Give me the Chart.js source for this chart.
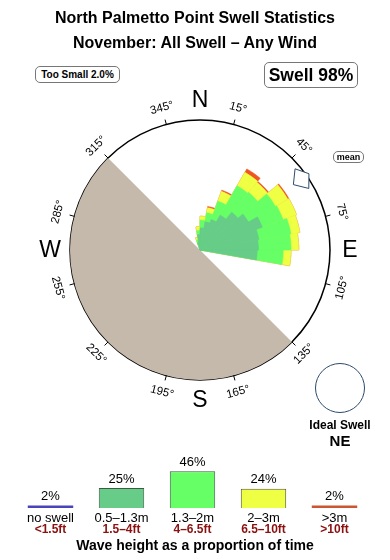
<!DOCTYPE html>
<html><head><meta charset="utf-8">
<script src="https://cdn.jsdelivr.net/npm/chart.js@4.4.1/dist/chart.umd.min.js"></script>
<style>
html,body{margin:0;padding:0;background:#fff;}
body{width:390px;height:560px;position:relative;overflow:hidden;font-family:"Liberation Sans",Arial,Helvetica,sans-serif;color:#000;}
canvas{position:absolute;left:0;}
#rose{top:0;}
#legend{top:440px;}
.t{position:absolute;left:0;width:390px;text-align:center;font-weight:bold;font-size:16px;line-height:20px;}
.box{position:absolute;border:1px solid #777;border-radius:5px;background:#fff;white-space:nowrap;text-align:center;font-weight:bold;box-sizing:border-box;}
#ideal{position:absolute;left:315px;top:363px;width:50px;height:50px;border:1.2px solid #2c4a6e;border-radius:50%;box-sizing:border-box;}
.lbl{position:absolute;width:100px;text-align:center;font-weight:bold;}
</style></head><body>
<canvas id="rose" width="390" height="440"></canvas>
<canvas id="legend" width="390" height="120"></canvas>
<div class="t" style="top:8px;">North Palmetto Point Swell Statistics</div>
<div class="t" style="top:33px;">November: All Swell – Any Wind</div>
<div class="box" style="left:35px;top:66px;width:85px;height:17px;font-size:10px;line-height:15px;">Too Small 2.0%</div>
<div class="box" style="left:264px;top:62px;width:94px;height:26px;font-size:17.5px;line-height:24px;">Swell 98%</div>
<div class="box" style="left:333px;top:151px;width:31px;height:12px;font-size:9px;line-height:10px;">mean</div>
<div id="ideal"></div>
<div class="lbl" style="left:290px;top:418px;font-size:12px;line-height:14px;">Ideal Swell</div>
<div class="lbl" style="left:290px;top:432px;font-size:15px;line-height:17px;">NE</div>
<script>
// ---- swell rose data (10° direction bins, bin start bearing) ----
const binStart = [340, 350, 0, 10, 20, 30, 40, 50, 60, 70, 80, 90];
// outer radius of each height band (cumulative), in % of the rim radius
const band05to13 = [6, 12, 17, 22, 25, 31, 38, 43, 51, 46, 45, 44];
const band13to2  = [8, 15, 23, 29, 40, 57, 58, 67, 68, 71, 70, 64];
const band2to3   = [10, 18, 26, 33, 48, 69, 68, 78, 79, 78, 76, 70];
const bandOver3  = [10, 18, 26, 34, 49, 72, 69, 79, 79, 78, 76, 70];
// shadowed (offshore) sector: from 135° to 315°
const shadowFrom = 135, shadowTo = 315;
const meanDirection = 55;
const degreeTicks = [15, 45, 75, 105, 135, 165, 195, 225, 255, 285, 315, 345];
const compass = [['N', 0], ['E', 90], ['S', 180], ['W', 270]];

// ---- wave height summary ----
const heightBands = ['no swell', '0.5–1.3m', '1.3–2m', '2–3m', '>3m'];
const heightFeet = ['<1.5ft', '1.5–4ft', '4–6.5ft', '6.5–10ft', '>10ft'];
const heightShare = [2, 25, 46, 24, 2];
const axisTitle = 'Wave height as a proportion of time';

const FONT = '"Liberation Sans", Arial, Helvetica, sans-serif';
const dirLabels = Array.from({length: 36}, (_, i) => (i * 10) + '°');
function full(arr) {
  const out = new Array(36).fill(0);
  binStart.forEach((a, i) => { out[a / 10] = arr[i]; });
  return out;
}
function ds(label, arr, color) {
  return {label, data: full(arr), backgroundColor: color, borderColor: color, borderWidth: 0.6};
}
const shadowAngles = [shadowFrom, shadowTo - shadowFrom, 360 - shadowTo];

const roseDecor = {
  id: 'roseDecor',
  afterDraw(chart) {
    const s = chart.scales.r, ctx = chart.ctx;
    const cx = s.xCenter, cy = s.yCenter, R = s.drawingArea;
    const pt = (b, r) => { const a = (b - 90) * Math.PI / 180; return [cx + Math.cos(a) * r, cy + Math.sin(a) * r]; };
    ctx.save();
    ctx.strokeStyle = '#000'; ctx.lineWidth = 1;
    degreeTicks.forEach(b => {
      const p1 = pt(b, R), p2 = pt(b, R + 5);
      ctx.beginPath(); ctx.moveTo(p1[0], p1[1]); ctx.lineTo(p2[0], p2[1]); ctx.stroke();
    });
    ctx.fillStyle = '#000'; ctx.textAlign = 'center'; ctx.textBaseline = 'middle';
    ctx.font = '11.5px ' + FONT;
    degreeTicks.forEach(b => {
      const p = pt(b, R + 17);
      let rot = b;
      if (b > 90 && b < 270) rot = b - 180; else if (b >= 270) rot = b - 360;
      ctx.save(); ctx.translate(p[0], p[1]); ctx.rotate(rot * Math.PI / 180);
      ctx.fillText(b + '°', 0, 0); ctx.restore();
    });
    ctx.font = '23px ' + FONT;
    compass.forEach(([t, b]) => { const p = pt(b, R + 20); ctx.fillText(t, p[0], p[1] + 1); });
    // mean direction marker (arrow head pointing to the centre)
    const tip = pt(meanDirection, R - 16), w1 = pt(meanDirection - 5.5, R - 5), w2 = pt(meanDirection + 5.5, R - 5), back = pt(meanDirection, R + 3);
    ctx.beginPath(); ctx.moveTo(tip[0], tip[1]); ctx.lineTo(w1[0], w1[1]); ctx.lineTo(back[0], back[1]); ctx.lineTo(w2[0], w2[1]); ctx.closePath();
    ctx.fillStyle = '#fff'; ctx.fill(); ctx.strokeStyle = '#2c4a6e'; ctx.lineWidth = 1; ctx.stroke();
    ctx.restore();
  }
};

new Chart(document.getElementById('rose'), {
  type: 'polarArea',
  data: {
    labels: dirLabels,
    datasets: [
      ds('0.5–1.3m', band05to13, '#66cc88'),
      ds('1.3–2m', band13to2, '#66ff66'),
      ds('2–3m', band2to3, '#eeff44'),
      ds('>3m', bandOver3, '#ee5522'),
      {label: 'shadow', data: [0, 100, 0], angle: ctx => shadowAngles[ctx.dataIndex],
       backgroundColor: '#c4b9ab', borderColor: '#c4b9ab', borderWidth: 0}
    ]
  },
  options: {
    responsive: false, animation: false,
    layout: {padding: {left: 70, right: 60, top: 120, bottom: 60}},
    plugins: {legend: {display: false}, tooltip: {enabled: false}},
    scales: {
      r: {
        min: 0, max: 100, startAngle: 0,
        ticks: {display: false, stepSize: 100, z: 1},
        grid: {circular: true, color: '#000', lineWidth: 1.5},
        angleLines: {display: false},
        pointLabels: {display: false}
      }
    }
  },
  plugins: [roseDecor]
});

const legendLabels = {
  id: 'legendLabels',
  afterDatasetsDraw(chart) {
    const ctx = chart.ctx, meta = chart.getDatasetMeta(0);
    const y0 = chart.scales.y.getPixelForValue(0);
    ctx.save(); ctx.textAlign = 'center'; ctx.textBaseline = 'middle';
    meta.data.forEach((bar, i) => {
      ctx.fillStyle = '#000'; ctx.font = '13px ' + FONT;
      ctx.fillText(heightShare[i] + '%', bar.x, bar.y - 9);
      ctx.fillText(heightBands[i], bar.x, y0 + 10);
      ctx.fillStyle = '#8b1010'; ctx.font = 'bold 12px ' + FONT;
      ctx.fillText(heightFeet[i], bar.x, y0 + 22);
    });
    ctx.fillStyle = '#000'; ctx.font = 'bold 14px ' + FONT;
    ctx.fillText(axisTitle, 195, y0 + 38);
    ctx.restore();
  }
};

new Chart(document.getElementById('legend'), {
  type: 'bar',
  data: {
    labels: heightBands,
    datasets: [{
      data: heightShare,
      backgroundColor: ['#4a44bb', '#66cc88', '#66ff66', '#eeff44', '#cc5533'],
      borderColor: ['#4a44bb', '#3d5a45', '#3d5a45', '#55552a', '#cc5533'],
      borderWidth: [0, 1, 1, 1, 0],
      minBarLength: 2.5,
      barPercentage: 0.64, categoryPercentage: 1
    }]
  },
  options: {
    responsive: false, animation: false,
    layout: {padding: {left: 15, right: 20, top: 20, bottom: 52}},
    plugins: {legend: {display: false}, tooltip: {enabled: false}},
    scales: {
      x: {display: false},
      y: {display: false, min: 0, max: 60}
    }
  },
  plugins: [legendLabels]
});
</script>
</body></html>
